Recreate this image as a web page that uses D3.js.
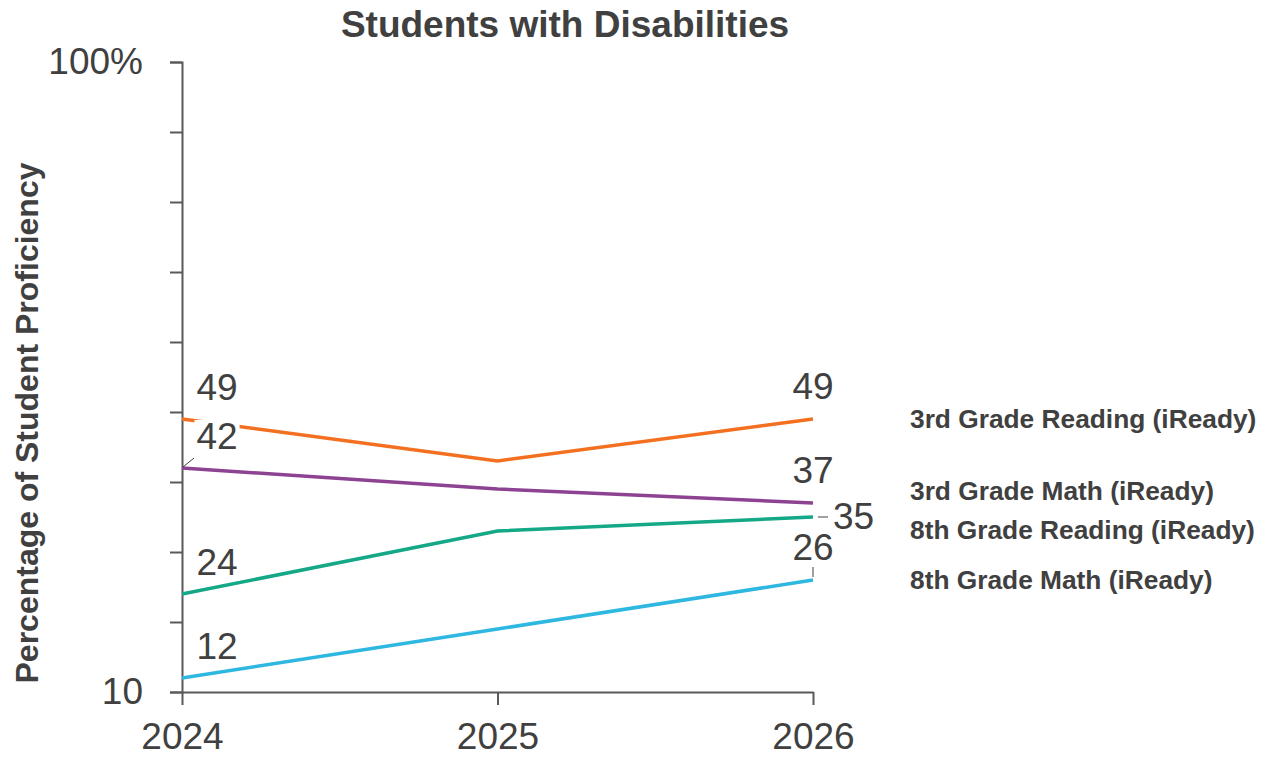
<!DOCTYPE html>
<html>
<head>
<meta charset="utf-8">
<script src="https://cdn.jsdelivr.net/npm/d3@7/dist/d3.min.js"></script>
<style>
  html, body { margin: 0; padding: 0; background: #fff; }
  svg { display: block; font-family: "Liberation Sans", Arial, sans-serif; }
</style>
</head>
<body>
<svg id="chart" width="1261" height="757"></svg>
<script>
// Proficiency of students with disabilities, iReady, 2024–2026
const years = [2024, 2025, 2026];
const seriesNames = [
  "3rd Grade Reading (iReady)",
  "3rd Grade Math (iReady)",
  "8th Grade Reading (iReady)",
  "8th Grade Math (iReady)"
];
const reading3 = [49, 43, 49];
const math3 = [42, 39, 37];
const reading8 = [24, 33, 35];
const math8 = [12, 19, 26];
const seriesValues = [reading3, math3, reading8, math8];
const seriesColors = ["#F37021", "#8D4392", "#14A886", "#2DB7E1"];
const yTickValues = [10, 20, 30, 40, 50, 60, 70, 80, 90, 100];
const yDomain = [10, 100];

// Where each value label sits relative to its point: [placement at first year, placement at last year]
const labelPlacement = [
  ["aboveRight", "above"],
  ["aboveRightLeader", "above"],
  ["aboveRight", "rightLeader"],
  ["aboveRight", "aboveLeader"]
];

const textColor = "#404040";
const axisColor = "#595959";
const margin = { top: 62, left: 182 };
const plotW = 631, plotH = 630;

const svg = d3.select("#chart");
const g = svg.append("g").attr("transform", `translate(${margin.left},${margin.top})`);

const x = d3.scalePoint().domain(years).range([0, plotW]);
const y = d3.scaleLinear().domain(yDomain).range([plotH, 0]);

// Title
svg.append("text")
  .attr("x", 565).attr("y", 37)
  .attr("text-anchor", "middle")
  .attr("font-size", 37).attr("font-weight", "bold")
  .attr("fill", textColor)
  .text("Students with Disabilities");

// Y axis title
svg.append("text")
  .attr("transform", "translate(38,423) rotate(-90)")
  .attr("text-anchor", "middle")
  .attr("font-size", 32).attr("font-weight", "bold")
  .attr("fill", textColor)
  .text("Percentage of Student Proficiency");

// Y axis
const yAxis = g.append("g")
  .call(d3.axisLeft(y).tickValues(yTickValues).tickSize(12).tickPadding(27)
    .tickFormat(d => d === 100 ? "100%" : (d === 10 ? "10" : "")));
yAxis.select(".domain").attr("stroke", axisColor).attr("stroke-width", 2);
yAxis.selectAll(".tick line").attr("stroke", axisColor).attr("stroke-width", 2);
yAxis.selectAll(".tick text")
  .attr("font-size", 37).attr("fill", textColor)
  .attr("font-family", "Liberation Sans, Arial, sans-serif");

// X axis
const xAxis = g.append("g")
  .attr("transform", `translate(0,${plotH})`)
  .call(d3.axisBottom(x).tickSize(13).tickPadding(18).tickSizeOuter(0));
xAxis.select(".domain").attr("stroke", axisColor).attr("stroke-width", 2);
xAxis.selectAll(".tick line").attr("stroke", axisColor).attr("stroke-width", 2);
xAxis.selectAll(".tick text")
  .attr("font-size", 37).attr("fill", textColor)
  .attr("dy", "0.71em")
  .attr("font-family", "Liberation Sans, Arial, sans-serif");

// Lines
const line = d3.line().x((d, i) => x(years[i])).y(d => y(d));
seriesValues.forEach((vals, s) => {
  g.append("path")
    .datum(vals)
    .attr("fill", "none")
    .attr("stroke", seriesColors[s])
    .attr("stroke-width", 3.5)
    .attr("d", line);
});

// Value labels at first and last year
const labelLayer = g.append("g");
seriesValues.forEach((vals, s) => {
  [0, years.length - 1].forEach((idx, k) => {
    const px = x(years[idx]), py = y(vals[idx]);
    const mode = labelPlacement[s][k];
    let tx, ty, anchor = "middle";
    if (mode.startsWith("aboveRight")) { tx = px + 35; ty = py - 19; }
    else if (mode.startsWith("above")) { tx = px; ty = py - 20; }
    else { tx = px + 20; ty = py + 12; anchor = "start"; }
    const lg = labelLayer.append("g");
    const t = lg.append("text")
      .attr("x", tx).attr("y", ty)
      .attr("text-anchor", anchor)
      .attr("font-size", 37).attr("fill", textColor)
      .text(vals[idx]);
    const bb = t.node().getBBox();
    lg.insert("rect", "text")
      .attr("x", bb.x - 2).attr("y", bb.y + 4)
      .attr("width", bb.width + 4).attr("height", bb.height - 6)
      .attr("fill", "#fff");
    if (mode.endsWith("Leader")) {
      let l;
      if (mode === "aboveRightLeader") l = [px + 1, py - 1, px + 12, py - 10];
      else if (mode === "aboveLeader") l = [px, py - 3, px, py - 13];
      else l = [px + 5, py, px + 15, py];
      labelLayer.append("line")
        .attr("x1", l[0]).attr("y1", l[1]).attr("x2", l[2]).attr("y2", l[3])
        .attr("stroke", textColor).attr("stroke-width", 1);
    }
  });
});

// Series names at the right, spread apart so they do not overlap
const minGap = 39;
const ends = seriesValues.map((v, i) => ({ i, pos: y(v[v.length - 1]) }));
ends.sort((a, b) => a.pos - b.pos);
for (let iter = 0; iter < 50; iter++) {
  let moved = false;
  for (let j = 1; j < ends.length; j++) {
    const d = ends[j].pos - ends[j - 1].pos;
    if (d < minGap) {
      const shift = (minGap - d) / 2;
      ends[j - 1].pos -= shift; ends[j].pos += shift; moved = true;
    }
  }
  if (!moved) break;
}
ends.forEach(e => {
  g.append("text")
    .attr("x", 910 - margin.left).attr("y", e.pos)
    .attr("dy", "0.35em")
    .attr("font-size", 26.3).attr("font-weight", "bold")
    .attr("fill", textColor)
    .text(seriesNames[e.i]);
});
</script>
</body>
</html>
